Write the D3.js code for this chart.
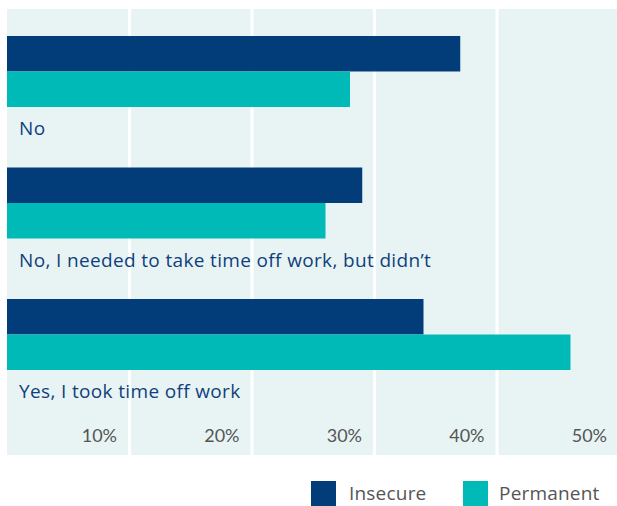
<!DOCTYPE html>
<html>
<head>
<meta charset="utf-8">
<script src="https://cdn.jsdelivr.net/npm/d3@7"></script>
<style>
  html, body { margin: 0; padding: 0; background: #ffffff; }
  svg { display: block; font-family: Lato, "Open Sans", sans-serif; }
</style>
</head>
<body>
<svg id="chart" width="617" height="506"></svg>
<script>
// Responses to: did you take time off work when you needed to?
const categories = [
  "No",
  "No, I needed to take time off work, but didn\u2019t",
  "Yes, I took time off work"
];
const seriesNames = ["Insecure", "Permanent"];
const insecureValues = [37, 29, 34];
const permanentValues = [28, 26, 46];
const tickValues = [10, 20, 30, 40, 50];
const tickLabels = ["10%", "20%", "30%", "40%", "50%"];

const colors = { Insecure: "#023d7a", Permanent: "#00bab8" };

const svg = d3.select("#chart");

const plot = { left: 7, top: 9, right: 617, bottom: 455 };

const x = d3.scaleLinear().domain([0, 50]).range([plot.left, plot.left + 612.5]);

const y = d3.scaleBand().domain(categories).range([36, 36 + 3 * 131.5]).padding(0);
const ySeries = d3.scaleBand().domain(seriesNames).range([0, 71]).padding(0);

// Plot background
svg.append("rect")
  .attr("x", plot.left).attr("y", plot.top)
  .attr("width", plot.right - plot.left).attr("height", plot.bottom - plot.top)
  .attr("fill", "#e8f4f4");

// Vertical gridlines
svg.append("g").selectAll("line")
  .data(tickValues.slice(0, 4))
  .join("line")
  .attr("x1", d => x(d)).attr("x2", d => x(d))
  .attr("y1", plot.top).attr("y2", plot.bottom)
  .attr("stroke", "#ffffff").attr("stroke-width", 3);

// Bars
const rows = categories.map((c, i) => ({
  category: c,
  values: [
    { series: "Insecure", value: insecureValues[i] },
    { series: "Permanent", value: permanentValues[i] }
  ]
}));

const groups = svg.append("g").selectAll("g")
  .data(rows)
  .join("g")
  .attr("transform", d => `translate(0,${y(d.category)})`);

groups.selectAll("rect")
  .data(d => d.values)
  .join("rect")
  .attr("x", x(0))
  .attr("y", d => ySeries(d.series))
  .attr("width", d => x(d.value) - x(0))
  .attr("height", ySeries.bandwidth())
  .attr("fill", d => colors[d.series]);

// Category labels beneath each pair of bars
groups.append("text")
  .attr("x", 19)
  .attr("y", 99)
  .attr("fill", "#103f7d")
  .attr("font-family", "'Open Sans', sans-serif")
  .attr("font-size", 19)
  .attr("letter-spacing", 0.35)
  .text(d => d.category);

// Value axis labels, set just left of each gridline
const axis = d3.axisBottom(x).tickValues(tickValues)
  .tickFormat((d, i) => tickLabels[i]).tickSize(0);
const axisG = svg.append("g")
  .attr("transform", `translate(0,${436})`)
  .call(axis);
axisG.select(".domain").remove();
axisG.selectAll("text")
  .attr("text-anchor", "end")
  .attr("dx", -13)
  .attr("dy", "0.35em")
  .attr("y", 0)
  .attr("fill", "#555555")
  .attr("font-size", 18)
  .attr("font-family", "Lato, sans-serif");

// Legend
const legendItems = [
  { name: "Insecure", sx: 311, tx: 349 },
  { name: "Permanent", sx: 463, tx: 499 }
];
const legend = svg.append("g").selectAll("g").data(legendItems).join("g");
legend.append("rect")
  .attr("x", d => d.sx).attr("y", 481)
  .attr("width", 25).attr("height", 25)
  .attr("fill", d => colors[d.name]);
legend.append("text")
  .attr("x", d => d.tx).attr("y", 500)
  .attr("fill", "#555555")
  .attr("font-family", "'Open Sans', sans-serif")
  .attr("font-size", 19)
  .attr("letter-spacing", 0.2)
  .text(d => d.name);
</script>
</body>
</html>
